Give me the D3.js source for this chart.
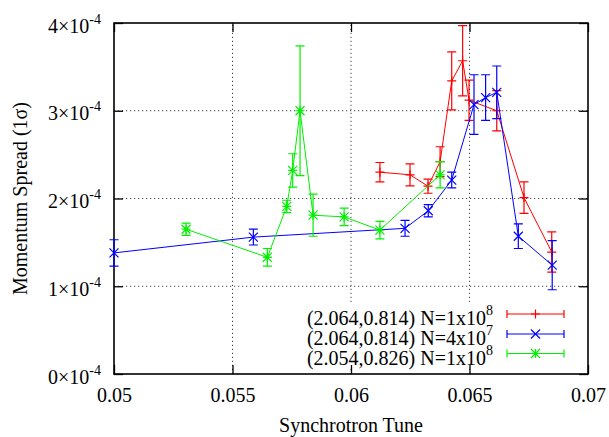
<!DOCTYPE html>
<html>
<head>
<meta charset="utf-8">
<script src="https://cdn.jsdelivr.net/npm/d3@7"></script>
<style>
  body { margin: 0; background: #fff; }
  .grid line { stroke: #444; stroke-dasharray: 1.2, 2.8; stroke-width: 1; }
</style>
</head>
<body>
<div id="chart"></div>
<script>
    var width = 609,
        height = 437;

    var serif = "'Liberation Serif', 'Times New Roman', serif";
    var margin = { left: 114, right: 21, top: 23, bottom: 63 };

    // tune values and spreads (units of 1e-4), with 1-sigma error bars
    var redTune   = [0.06122, 0.06249, 0.06325, 0.06376, 0.06425, 0.06471, 0.06498, 0.06615, 0.0673, 0.06847];
    var redSpread = [2.30, 2.27, 2.14, 2.42, 3.34, 3.57, 3.12, 3.00, 2.01, 1.39];
    var redErr    = [0.11, 0.125, 0.08, 0.17, 0.33, 0.40, 0.23, 0.23, 0.18, 0.23];

    var blueTune   = [0.05, 0.05588, 0.06228, 0.06326, 0.06425, 0.06519, 0.06568, 0.06615, 0.06706, 0.06849];
    var blueSpread = [1.38, 1.56, 1.66, 1.86, 2.21, 3.07, 3.15, 3.21, 1.57, 1.24];
    var blueErr    = [0.15, 0.09, 0.09, 0.07, 0.09, 0.34, 0.26, 0.30, 0.14, 0.28];

    var greenTune   = [0.05304, 0.05647, 0.05729, 0.05754, 0.05785, 0.0584, 0.05971, 0.06122, 0.06376];
    var greenSpread = [1.65, 1.33, 1.91, 2.32, 3.00, 1.81, 1.79, 1.64, 2.27];
    var greenErr    = [0.07, 0.10, 0.07, 0.19, 0.74, 0.24, 0.10, 0.10, 0.15];

    var xTicks = [0.05, 0.055, 0.06, 0.065, 0.07];
    var xTickLabels = ["0.05", "0.055", "0.06", "0.065", "0.07"];
    var yTicks = [0, 1, 2, 3, 4];
    var yTickLabels = ["0", "1", "2", "3", "4"];

    var legendLabels = [
      ["(2.064,0.814) N=1x10", "8"],
      ["(2.064,0.814) N=4x10", "7"],
      ["(2.054,0.826) N=1x10", "8"]
    ];

    var series = [
      { tune: redTune, spread: redSpread, err: redErr, color: "#ff0000", mark: "plus" },
      { tune: blueTune, spread: blueSpread, err: blueErr, color: "#0000ff", mark: "cross" },
      { tune: greenTune, spread: greenSpread, err: greenErr, color: "#00f000", mark: "star" }
    ];

    var x = d3.scaleLinear()
      .domain([0.05, 0.07])
      .range([margin.left, width - margin.right]);

    var y = d3.scaleLinear()
      .domain([0, 4])
      .range([height - margin.bottom, margin.top]);

    var svg = d3.select("#chart").append("svg")
      .attr("width", width)
      .attr("height", height)
      .style("font-family", serif);

    // dotted grid at inner ticks
    var grid = svg.append("g").attr("class", "grid");
    grid.selectAll(".gx")
      .data(xTicks.slice(1, -1))
      .enter().append("line")
      .attr("x1", function(d) { return x(d); })
      .attr("x2", function(d) { return x(d); })
      .attr("y1", y(0))
      .attr("y2", y(4));
    grid.selectAll(".gy")
      .data(yTicks.slice(1, -1))
      .enter().append("line")
      .attr("y1", function(d) { return y(d); })
      .attr("y2", function(d) { return y(d); })
      .attr("x1", x(0.05))
      .attr("x2", x(0.07));

    // legend area hides the grid
    svg.append("rect")
      .attr("x", 300).attr("y", 304)
      .attr("width", 278).attr("height", 62)
      .attr("fill", "#fff");

    // axes, ticks pointing inward on all four sides
    var xAxis = svg.append("g")
      .attr("transform", "translate(0," + y(0) + ")")
      .call(d3.axisBottom(x).tickValues(xTicks).tickSize(-9).tickPadding(0)
        .tickFormat(function(d, i) { return xTickLabels[i]; }));
    xAxis.selectAll("text")
      .attr("y", 28).attr("dy", 0)
      .attr("fill", "#000")
      .style("font-family", serif)
      .style("font-size", "20px");

    svg.append("g")
      .attr("transform", "translate(0," + y(4) + ")")
      .call(d3.axisTop(x).tickValues(xTicks).tickSize(-9).tickFormat(""));

    var yAxis = svg.append("g")
      .attr("transform", "translate(" + x(0.05) + ",0)")
      .call(d3.axisLeft(y).tickValues(yTicks).tickSize(-9).tickPadding(13)
        .tickFormat(function(d, i) { return yTickLabels[i]; }));
    yAxis.selectAll("text")
      .attr("dy", 9)
      .attr("fill", "#000")
      .style("font-family", serif)
      .style("font-size", "20px")
      .each(function(d, i) {
        var t = d3.select(this);
        t.text(null);
        t.append("tspan").text(yTickLabels[i] + "\u00d710");
        t.append("tspan").attr("dy", -9).style("font-size", "14px").text("-4");
      });

    svg.append("g")
      .attr("transform", "translate(" + x(0.07) + ",0)")
      .call(d3.axisRight(y).tickValues(yTicks).tickSize(-9).tickFormat(""));

    svg.selectAll(".domain").remove();
    svg.selectAll(".tick line").attr("stroke", "#000").attr("stroke-width", 1.3);

    svg.append("rect")
      .attr("x", x(0.05)).attr("y", y(4))
      .attr("width", x(0.07) - x(0.05))
      .attr("height", y(0) - y(4))
      .attr("fill", "none")
      .attr("stroke", "#000")
      .attr("stroke-width", 1.6);

    // axis titles
    svg.append("text")
      .attr("x", (x(0.05) + x(0.07)) / 2)
      .attr("y", 432)
      .attr("text-anchor", "middle")
      .style("font-size", "20px")
      .text("Synchrotron Tune");

    svg.append("text")
      .attr("transform", "translate(27," + (y(0) + y(4)) / 2 + ") rotate(-90)")
      .attr("text-anchor", "middle")
      .style("font-size", "20px")
      .text("Momentum Spread (1\u03c3)");

    function marker(g, mark, cx, cy, color) {
      var s = 4.5;
      var p = "";
      if (mark === "plus" || mark === "star") {
        p += "M" + (cx - s) + "," + cy + "H" + (cx + s) + "M" + cx + "," + (cy - s) + "V" + (cy + s);
      }
      if (mark === "cross" || mark === "star") {
        p += "M" + (cx - s) + "," + (cy - s) + "L" + (cx + s) + "," + (cy + s) +
             "M" + (cx - s) + "," + (cy + s) + "L" + (cx + s) + "," + (cy - s);
      }
      g.append("path").attr("d", p).attr("stroke", color).attr("stroke-width", 1.2).attr("fill", "none");
    }

    var line = d3.line()
      .x(function(d) { return x(d.t); })
      .y(function(d) { return y(d.v); });

    var cap = 4.5;
    series.forEach(function(s) {
      var pts = s.tune.map(function(t, i) { return { t: t, v: s.spread[i], e: s.err[i] }; });
      var g = svg.append("g");

      g.selectAll(".eb")
        .data(pts)
        .enter().append("path")
        .attr("d", function(d) {
          var cx = x(d.t), y0 = y(d.v - d.e), y1 = y(d.v + d.e);
          return "M" + cx + "," + y0 + "V" + y1 +
                 "M" + (cx - cap) + "," + y0 + "H" + (cx + cap) +
                 "M" + (cx - cap) + "," + y1 + "H" + (cx + cap);
        })
        .attr("stroke", s.color)
        .attr("stroke-width", 1.2)
        .attr("fill", "none");

      g.append("path")
        .datum(pts)
        .attr("d", line)
        .attr("stroke", s.color)
        .attr("stroke-width", 1)
        .attr("fill", "none");

      pts.forEach(function(d) { marker(g, s.mark, x(d.t), y(d.v), s.color); });
    });

    // legend
    var legY = [314, 334, 353.5];
    series.forEach(function(s, i) {
      var ly = legY[i];
      var t = svg.append("text")
        .attr("x", 493)
        .attr("y", ly + 11)
        .attr("text-anchor", "end")
        .style("font-size", "20px");
      t.append("tspan").text(legendLabels[i][0]);
      t.append("tspan").attr("dy", -10).style("font-size", "14px").text(legendLabels[i][1]);

      var x0 = 507, x1 = 564;
      svg.append("path")
        .attr("d", "M" + x0 + "," + ly + "H" + x1 +
                   "M" + x0 + "," + (ly - 4) + "V" + (ly + 4) +
                   "M" + x1 + "," + (ly - 4) + "V" + (ly + 4))
        .attr("stroke", s.color)
        .attr("stroke-width", 1.2)
        .attr("fill", "none");
      marker(svg.append("g"), s.mark, (x0 + x1) / 2, ly, s.color);
    });
</script>
</body>
</html>
